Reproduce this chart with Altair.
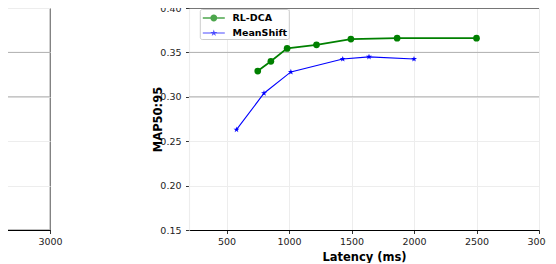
import math
import altair as alt
import pandas as pd

# ---------------- data ----------------
series_names = ["RL-DCA", "MeanShift"]
rl_latency = [750, 855, 985, 1220, 1495, 1865, 2500]
rl_map = [0.329, 0.340, 0.3545, 0.3585, 0.365, 0.366, 0.366]
ms_latency = [580, 800, 1015, 1430, 1640, 2000]
ms_map = [0.263, 0.304, 0.328, 0.3425, 0.345, 0.3425]
x_ticks = [500, 1000, 1500, 2000, 2500, 3000]
left_x_ticks = [3000]
y_ticks = [0.15, 0.20, 0.25, 0.30, 0.35, 0.40]
major_grid = [0.30, 0.35]
x_domain = [200, 3000]
y_domain = [0.15, 0.40]
colors = ["#008000", "#0000ff"]

df = pd.DataFrame({
    "series": ["RL-DCA"] * len(rl_latency) + ["MeanShift"] * len(ms_latency),
    "latency": rl_latency + ms_latency,
    "map": rl_map + ms_map,
})
major_df = pd.DataFrame({"y": major_grid})
top_df = pd.DataFrame({"y": [max(y_ticks)]})
xtick_df = pd.DataFrame({"x": x_ticks})

# ---------------- marker paths (style) ----------------
def star_path(r_out, r_in):
    pts = []
    for k in range(10):
        r = r_out if k % 2 == 0 else r_in
        a = -math.pi / 2 + k * math.pi / 5
        pts.append((r * math.cos(a), r * math.sin(a)))
    return "M" + " L".join(f"{x:.4f},{y:.4f}" for x, y in pts) + " Z"

def circle_path(r):
    return f"M{r},0 A{r},{r} 0 1,1 {-r},0 A{r},{r} 0 1,1 {r},0 Z"

def bar_path(half_len, half_t):
    return f"M{-half_len},{-half_t} H{half_len} V{half_t} H{-half_len} Z"

STAR = star_path(1, 0.38)
LEG_RL = bar_path(1.375, 0.1) + " " + circle_path(0.43)
LEG_MS = bar_path(1.375, 0.065) + " " + star_path(0.45, 0.17)

faint = "#ededed"
major = "#b0b0b0"
FONT = "DejaVu Sans"

x_scale = alt.Scale(domain=x_domain, nice=False, zero=False)
y_scale = alt.Scale(domain=y_domain, nice=False, zero=False)

x_axis = alt.Axis(values=x_ticks, title="Latency (ms)", format="d", grid=True,
                  gridColor=faint, labelPadding=2.5, titlePadding=6, labelFlush=False)
y_axis = alt.Axis(values=y_ticks, title="MAP50:95", format=".2f", grid=True,
                  gridColor=faint, domainColor=faint, labelPadding=4.5,
                  titlePadding=-4, labelFlush=False)

X = alt.X("latency:Q", scale=x_scale, axis=x_axis)
Y = alt.Y("map:Q", scale=y_scale, axis=y_axis)

rules_major = alt.Chart(major_df).mark_rule(color=major, strokeWidth=1).encode(
    y=alt.Y("y:Q", scale=y_scale, axis=y_axis))
rule_top = alt.Chart(top_df).mark_rule(color="black", strokeWidth=1.2).encode(
    y=alt.Y("y:Q", scale=y_scale, axis=y_axis))

line_rl = alt.Chart(df).transform_filter(alt.datum.series == "RL-DCA").mark_line(
    color=colors[0], strokeWidth=1.7).encode(x=X, y=Y)
line_ms = alt.Chart(df).transform_filter(alt.datum.series == "MeanShift").mark_line(
    color=colors[1], strokeWidth=1.1).encode(x=X, y=Y)
pts_rl = alt.Chart(df).transform_filter(alt.datum.series == "RL-DCA").mark_point(
    filled=True, shape="circle", size=45, color=colors[0], opacity=1).encode(x=X, y=Y)
pts_ms = alt.Chart(df).transform_filter(alt.datum.series == "MeanShift").mark_point(
    filled=True, shape=STAR, size=40, color=colors[1], opacity=1).encode(x=X, y=Y)

leg = alt.Legend(title=None, orient="none", legendX=10.8, legendY=1, padding=1,
                 symbolSize=256, symbolOffset=5, labelOffset=10.7, rowPadding=2,
                 strokeColor="#cccccc", fillColor="white", cornerRadius=2,
                 symbolStrokeWidth=0, labelFontSize=9.5, labelFontWeight="bold",
                 labelFont=FONT, labelColor="black")
# legend-only layer: its rows are filtered out, the legend is built from the scales
legend_layer = alt.Chart(df).transform_filter("datum.latency < 0").mark_point(filled=True).encode(
    x=X, y=Y,
    color=alt.Color("series:N", scale=alt.Scale(domain=series_names, range=colors), legend=leg),
    shape=alt.Shape("series:N", scale=alt.Scale(domain=series_names, range=[LEG_RL, LEG_MS]), legend=leg),
)

right = alt.layer(rules_major, rule_top, line_rl, line_ms, pts_rl, pts_ms, legend_layer).properties(
    width=350, height=222)

# ---------------- left (cropped) panel ----------------
left_x_axis = alt.Axis(values=left_x_ticks, title=None, format="d", grid=False,
                       labelPadding=2.5, labelFlush=False)
left_y_axis = alt.Axis(values=y_ticks, title=None, grid=True, gridColor=faint,
                       labels=False, ticks=False, domain=False)
left_rules = alt.Chart(major_df).mark_rule(color=major, strokeWidth=1).encode(
    y=alt.Y("y:Q", scale=y_scale, axis=left_y_axis))
left_vgrid = alt.Chart(xtick_df).mark_rule(color=faint, strokeWidth=1).encode(
    x=alt.X("x:Q", scale=x_scale, axis=left_x_axis))
left = alt.layer(left_vgrid, left_rules).properties(
    width=350, height=222, view=alt.ViewBackground(stroke="black", strokeWidth=1.2))

chart = alt.hconcat(left, right, spacing=89).resolve_scale(
    color="independent", shape="independent").resolve_legend(
    color="independent", shape="independent").properties(
    padding={"left": -310, "top": -5, "right": -6, "bottom": 0},
    background="white",
).configure_view(stroke=None).configure_axis(
    labelFont=FONT, labelFontSize=9.5, labelColor="#222222",
    tickColor="black", tickSize=3.5, tickWidth=0.8,
    domainColor="black", domainWidth=1.2,
    titleFont=FONT, titleFontWeight="bold", titleFontSize=11.5, titleColor="black",
)

chart.save("out.html", embed_options={"renderer": "svg", "actions": False})
